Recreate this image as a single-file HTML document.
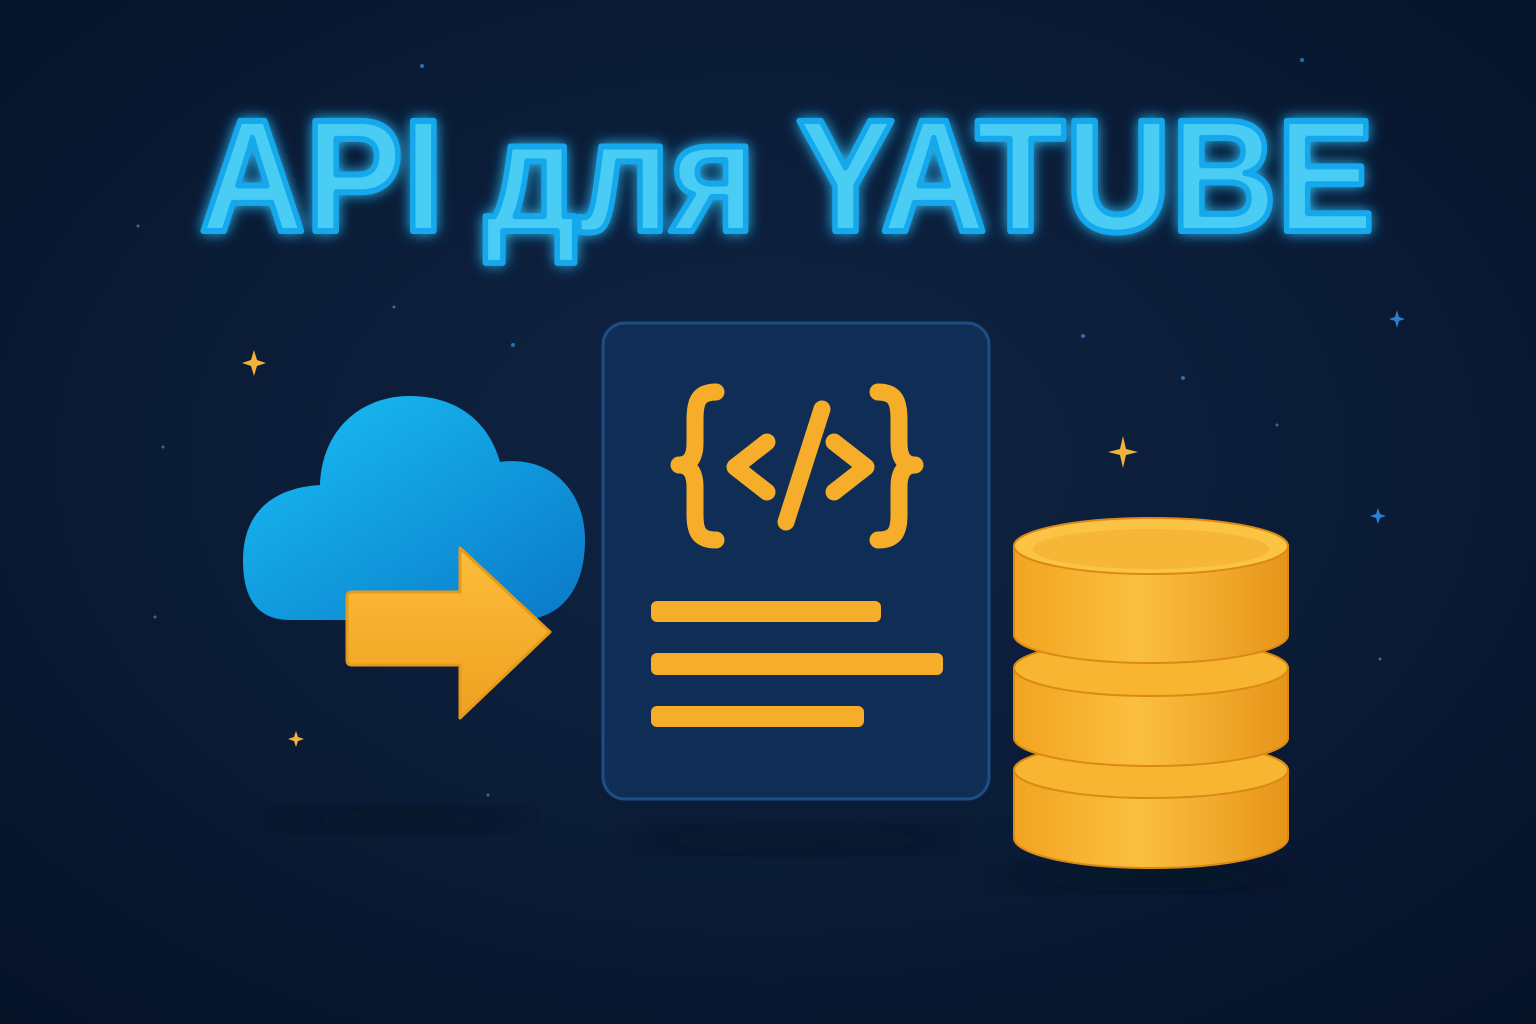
<!DOCTYPE html>
<html><head><meta charset="utf-8"><style>
html,body{margin:0;padding:0;width:1536px;height:1024px;overflow:hidden;background:#0a1a33}
</style></head><body>
<svg width="1536" height="1024" viewBox="0 0 1536 1024" xmlns="http://www.w3.org/2000/svg">
<defs>
<radialGradient id="bg" cx="50%" cy="45%" r="75%">
<stop offset="0" stop-color="#0f2444"/><stop offset="1" stop-color="#061328"/></radialGradient>
<linearGradient id="cl" x1="0" y1="0" x2="1" y2="1">
<stop offset="0" stop-color="#19c0f5"/><stop offset="1" stop-color="#0a78c8"/></linearGradient>
<linearGradient id="or" x1="0" y1="0" x2="0" y2="1">
<stop offset="0" stop-color="#fbbd3a"/><stop offset="1" stop-color="#f0a020"/></linearGradient>
<linearGradient id="cy" x1="0" y1="0" x2="1" y2="0">
<stop offset="0" stop-color="#f2a420"/><stop offset=".45" stop-color="#fbbf3f"/><stop offset="1" stop-color="#e8951a"/></linearGradient>
<filter id="glow" x="-20%" y="-40%" width="140%" height="180%"><feGaussianBlur stdDeviation="7" result="b"/><feMerge><feMergeNode in="b"/><feMergeNode in="SourceGraphic"/></feMerge></filter>
<filter id="sh"><feGaussianBlur stdDeviation="14"/></filter>
</defs>
<rect width="1536" height="1024" fill="url(#bg)"/>
<g fill="#2a6fb0">
<circle cx="422" cy="66" r="2"/><circle cx="1302" cy="60" r="2"/><circle cx="138" cy="226" r="1.5"/><circle cx="394" cy="307" r="1.5"/><circle cx="513" cy="345" r="2"/><circle cx="1083" cy="336" r="2"/><circle cx="1183" cy="378" r="2"/><circle cx="1277" cy="425" r="1.5"/><circle cx="163" cy="447" r="1.5"/><circle cx="155" cy="617" r="1.5"/><circle cx="1380" cy="659" r="1.5"/><circle cx="488" cy="795" r="1.5"/>
</g>
<g fill="#f3b23a">
<path d="M254,350 L257,360 L266,363 L257,366 L254,376 L251,366 L242,363 L251,360Z"/>
<path d="M1123,436 L1126,449 L1138,452 L1126,455 L1123,468 L1120,455 L1108,452 L1120,449Z"/>
<path d="M296,731 L298,737 L304,739 L298,741 L296,747 L294,741 L288,739 L294,737Z"/>
</g>
<g fill="#2a7fd0">
<path d="M1397,310 L1399,317 L1405,319 L1399,321 L1397,328 L1395,321 L1389,319 L1395,317Z"/>
<path d="M1378,508 L1380,514 L1386,516 L1380,518 L1378,524 L1376,518 L1370,516 L1376,514Z"/>
</g>
<g filter="url(#glow)">
<text x="787" y="231" text-anchor="middle" font-family="Liberation Sans, DejaVu Sans, sans-serif" font-weight="bold" font-size="160" textLength="1175" lengthAdjust="spacingAndGlyphs" fill="#48cdf5" stroke="#12a8ec" stroke-width="6" stroke-linejoin="round">API для YATUBE</text>
</g>
<ellipse cx="400" cy="820" rx="120" ry="12" fill="#030a18" opacity=".35" filter="url(#sh)"/>
<ellipse cx="795" cy="840" rx="160" ry="14" fill="#030a18" opacity=".35" filter="url(#sh)"/>
<ellipse cx="1150" cy="878" rx="140" ry="14" fill="#030a18" opacity=".35" filter="url(#sh)"/>
<path d="M290,620 C255,620 243,595 243,560 C243,515 270,488 320,485 C322,430 360,396 410,396 C460,396 490,425 500,462 C550,455 585,490 585,540 C585,590 560,620 520,620Z" fill="url(#cl)"/>
<path d="M352,592 L460,592 L460,548 L550,632 L460,718 L460,665 L352,665 Q347,665 347,660 L347,597 Q347,592 352,592Z" fill="url(#or)" stroke="#e69a1c" stroke-width="3" stroke-linejoin="round"/>
<rect x="603" y="323" width="386" height="476" rx="22" fill="#0f2d55" stroke="#1d4d85" stroke-width="3"/>
<g fill="none" stroke="#f6ad2a" stroke-width="17" stroke-linecap="round" stroke-linejoin="round">
<path d="M716,392 C698,392 695,402 695,420 L695,443 C695,457 690,465 679,465 C690,465 695,473 695,487 L695,515 C695,533 700,540 716,540"/>
<path d="M878,392 C896,392 899,402 899,420 L899,443 C899,457 904,465 915,465 C904,465 899,473 899,487 L899,515 C899,533 894,540 878,540"/>
<path d="M767,442 L735,467 L767,492"/>
<path d="M834,442 L866,467 L834,492"/>
<path d="M822,409 L786,522"/>
</g>
<g fill="#f6ad2a">
<rect x="651" y="601" width="230" height="21" rx="6"/>
<rect x="651" y="653" width="292" height="22" rx="6"/>
<rect x="651" y="706" width="213" height="21" rx="6"/>
</g>
<g stroke="#d98a14" stroke-width="2">
<path d="M1014,770 L1014,838 A137,30 0 0 0 1288,838 L1288,770Z" fill="url(#cy)"/>
<ellipse cx="1151" cy="770" rx="137" ry="28" fill="#f7b531"/>
<path d="M1014,668 L1014,738 A137,28 0 0 0 1288,738 L1288,668Z" fill="url(#cy)"/>
<ellipse cx="1151" cy="668" rx="137" ry="28" fill="#f7b531"/>
<path d="M1014,546 L1014,635 A137,28 0 0 0 1288,635 L1288,546Z" fill="url(#cy)"/>
<ellipse cx="1151" cy="546" rx="137" ry="28" fill="#fbc445"/>
</g>
<ellipse cx="1151" cy="549" rx="118" ry="20" fill="#f4b030" opacity=".7"/>
</svg>
</body></html>
